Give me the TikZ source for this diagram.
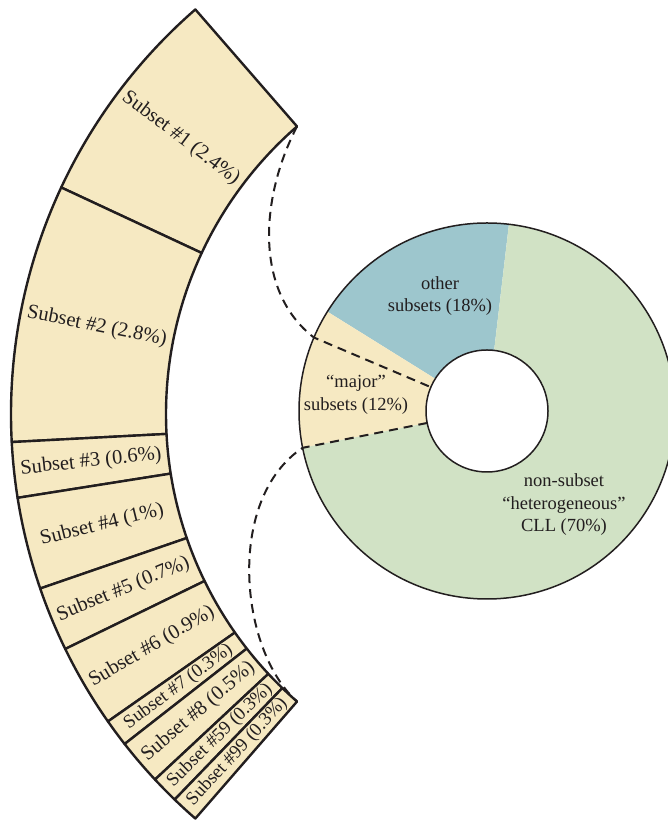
\documentclass[tikz,border=0pt]{standalone}
\usepackage{fontspec}
\setmainfont{Liberation Serif}
\definecolor{gelb}{HTML}{F6E9C2}
\definecolor{blau}{HTML}{9DC6CD}
\definecolor{gruen}{HTML}{D1E2C5}
\definecolor{rand}{HTML}{221E1F}
\def\rinnen{381pt}
\def\raussen{536pt}
\def\rmitte{458.5pt}
\def\Raus{188pt}
\def\Rin{61pt}

\begin{document}
\begin{tikzpicture}[x=1pt,y=1pt,line join=round,
	band/.style={fill=gelb,draw=rand,line width=2.4pt},
	bandtext/.style={text=rand,font=\fontsize{20.5}{24}\selectfont,inner sep=0pt},
	schmal/.style={font=\fontsize{18.8}{22}\selectfont},
	ringtext/.style={text=rand,align=center,font=\fontsize{18.5}{22.5}\selectfont},
	ring/.style={draw=rand,line width=1.5pt},
	verbindung/.style={draw=rand,line width=2pt,dash pattern=on 9pt off 6pt}]

\useasboundingbox (0,0) rectangle (668,821);

\coordinate (M) at (547,407);
\coordinate (Z) at (487,410);

\def\segment#1#2#3#4#5{
	\pgfmathsetmacro\mitte{(#1+#2)/2}
	\pgfmathsetmacro\dreh{\mitte-180}
	\draw[band] ([shift={(#1:\rinnen)}]M) -- ([shift={(#1:\raussen)}]M)
		arc[start angle=#1,end angle=#2,radius=\raussen]
		-- ([shift={(#2:\rinnen)}]M)
		arc[start angle=#2,end angle=#1,radius=\rinnen] -- cycle;
	\node[bandtext,#5,rotate=\dreh] (#3) at ([shift={(\mitte:\rmitte)}]M) {#4};
}

% Segmente (10 Grad pro Prozent)
\segment{131}{155}{s1}{Subset \#1 (2.4\%)}{}
\segment{155}{183}{s2}{Subset \#2 (2.8\%)}{}
\segment{183}{189}{s3}{Subset \#3 (0.6\%)}{}
\segment{189}{199}{s4}{Subset \#4 (1\%)}{}
\segment{199}{206}{s5}{Subset \#5 (0.7\%)}{}
\segment{206}{215}{s6}{Subset \#6 (0.9\%)}{}
\segment{215}{218}{s7}{Subset \#7 (0.3\%)}{schmal}
\segment{218}{223}{s8}{Subset \#8 (0.5\%)}{}
\segment{223}{226}{s59}{Subset \#59 (0.3\%)}{schmal}
\segment{226}{229}{s99}{Subset \#99 (0.3\%)}{schmal}

% Ring
\fill[blau] (Z) -- ++(83.3:\Raus) arc[start angle=83.3,end angle=148.1,radius=\Raus] -- cycle;
\fill[gelb] (Z) -- ++(148.1:\Raus) arc[start angle=148.1,end angle=191.3,radius=\Raus] -- cycle;
\fill[gruen] (Z) -- ++(191.3:\Raus) arc[start angle=191.3,end angle=443.3,radius=\Raus] -- cycle;
\fill[white] (Z) circle[radius=\Rin];

% Verbindungslinien
\coordinate (bo) at ([shift={(131:\rinnen)}]M);
\coordinate (bu) at ([shift={(229:\rinnen)}]M);
\coordinate (ao) at ([shift={(157:\Raus)}]Z);
\coordinate (io) at ([shift={(157:\Rin)}]Z);
\coordinate (au) at ([shift={(191.3:\Raus)}]Z);
\coordinate (iu) at ([shift={(191.3:\Rin)}]Z);

\draw[verbindung] (bo) .. controls +(-36,-69) and +(-61,47) .. (ao) -- (io);
\draw[verbindung] (iu) -- (au) .. controls +(-77,-51) and +(-58,52) .. (bu);

\draw[ring] (Z) circle[radius=\Raus];
\draw[ring] (Z) circle[radius=\Rin];

\node[ringtext] (andere) at (440,525) {other\\subsets (18\%)};
\node[ringtext] (major) at (356,426) {“major”\\subsets (12\%)};
\node[ringtext] (rest) at (564,316) {non-subset\\“heterogeneous”\\CLL (70\%)};

\end{tikzpicture}
\end{document}
